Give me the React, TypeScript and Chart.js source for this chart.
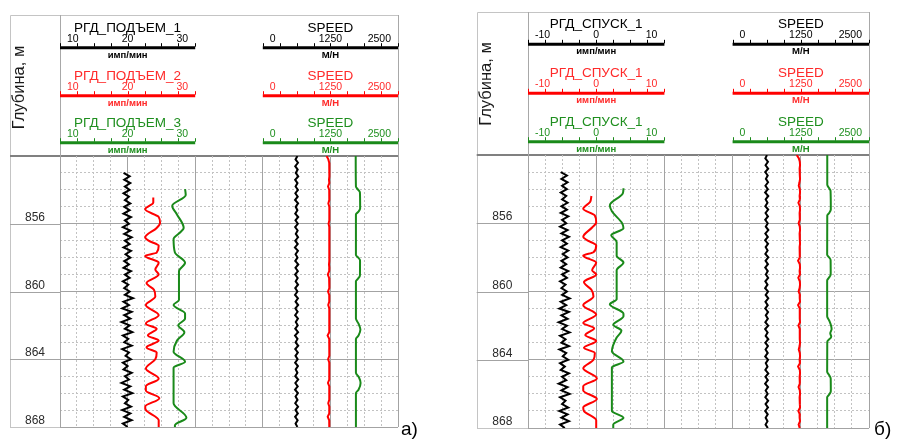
import React, { useEffect, useRef } from "react";
import { Chart, registerables } from "chart.js";

Chart.register(...registerables);

const FONT = "'Liberation Sans', Arial, Helvetica, sans-serif";

// ---------------- data ----------------
const DEPTH_MIN = 852;
const DEPTH_MAX = 868;
const depthTitle = "Глубина, м";
const namesA = ["РГД_ПОДЪЕМ_1", "РГД_ПОДЪЕМ_2", "РГД_ПОДЪЕМ_3"];
const namesB = ["РГД_СПУСК_1", "РГД_СПУСК_1", "РГД_СПУСК_1"];
const speedName = "SPEED";
const unitCount = "имп/мин";
const unitSpeed = "М/Н";
const ticksA = [10, 20, 30];
const ticksB = [-10, 0, 10];
const speedTicks = [0, 1250, 2500];

const depthFine = [
  852.0, 852.2, 852.4, 852.6, 852.8, 853.0, 853.2, 853.4, 853.6, 853.8,
  854.0, 854.2, 854.4, 854.6, 854.8, 855.0, 855.2, 855.4, 855.6, 855.8,
  856.0, 856.2, 856.4, 856.6, 856.8, 857.0, 857.2, 857.4, 857.6, 857.8,
  858.0, 858.2, 858.4, 858.6, 858.8, 859.0, 859.2, 859.4, 859.6, 859.8,
  860.0, 860.2, 860.4, 860.6, 860.8, 861.0, 861.2, 861.4, 861.6, 861.8,
  862.0, 862.2, 862.4, 862.6, 862.8, 863.0, 863.2, 863.4, 863.6, 863.8,
  864.0, 864.2, 864.4, 864.6, 864.8, 865.0, 865.2, 865.4, 865.6, 865.8,
  866.0, 866.2, 866.4, 866.6, 866.8, 867.0, 867.2, 867.4, 867.6, 867.8,
  868.0,
];
const depthFrom853 = depthFine.slice(5);

// panel a) — ПОДЪЕМ
const aBlack1 = [
  19.4, 20.3, 19.5, 20.4, 19.6, 20.3, 19.4, 20.2, 19.6, 20.4,
  19.5, 20.3, 19.4, 20.5, 19.6, 20.2, 19.3, 20.4, 19.5, 20.6,
  19.6, 20.3, 19.4, 20.5, 19.7, 20.4, 19.5, 20.2, 19.4, 20.5,
  19.6, 20.3, 19.3, 20.1, 19.5, 20.3, 19.6, 20.8, 19.4, 20.2,
  19.2, 20.6, 19.5, 20.4, 19.1, 20.3, 19.6, 20.7, 19.3, 20.1,
  19.5, 20.6, 19.2, 20.2, 19.7, 20.5, 19.3, 20.0, 19.4, 20.6,
  19.6, 20.2, 19.1, 20.4, 19.5, 20.7, 19.3, 20.1, 19.6, 20.5,
  19.2, 20.4, 19.5, 20.6, 19.3, 20.0,
];
const aRed1Depth = [
  854.45, 854.75, 855.15, 855.6, 855.95, 856.25, 856.8, 857.0, 857.3, 857.7,
  857.9, 858.3, 858.7, 859.0, 859.5, 859.9, 860.3, 860.8, 861.4, 861.9,
  862.2, 862.6, 862.9, 863.3, 863.6, 864.0, 864.55, 865.15, 865.6, 865.85,
  866.3, 866.8, 867.0, 867.6, 868.0,
];
const aRed1 = [
  23.8, 23.8, 22.6, 24.6, 24.8, 24.3, 22.6, 23.1, 24.6, 24.3,
  22.6, 24.6, 24.1, 24.6, 22.8, 23.9, 24.1, 22.7, 24.6, 22.7,
  24.3, 23.0, 24.6, 22.8, 24.3, 24.1, 22.7, 24.6, 22.7, 22.7,
  24.7, 22.6, 22.7, 24.6, 24.6,
];
const aGreen1Depth = [
  853.95, 854.3, 854.95, 855.45, 856.25, 856.5, 856.9, 857.7, 858.3, 858.8,
  859.9, 860.5, 860.8, 861.3, 861.6, 862.0, 862.4, 862.9, 863.55, 864.15,
  864.5, 866.6, 867.45, 867.9, 868.0,
];
const aGreen1 = [
  28.5, 28.6, 26.6, 27.3, 28.3, 27.8, 26.8, 27.0, 28.5, 27.6,
  27.6, 27.6, 26.8, 28.5, 28.5, 27.5, 28.4, 27.3, 26.8, 28.5,
  26.8, 26.8, 28.7, 27.0, 27.0,
];
const aBlackSpeed = [
  640, 605, 650, 600, 645, 610, 655, 598, 642, 606,
  650, 602, 646, 596, 652, 608, 640, 600, 655, 604,
  648, 598, 644, 610, 652, 600, 646, 594, 650, 606,
  642, 600, 656, 604, 648, 598, 645, 608, 652, 600,
  640, 596, 650, 606, 654, 602, 644, 598, 650, 610,
  646, 600, 652, 596, 642, 606, 655, 600, 648, 604,
  644, 598, 650, 608, 640, 600, 654, 602, 646, 596,
  650, 606, 642, 600, 652, 604, 648, 598, 644, 606,
  640,
];
const aRedSpeed = [
  1180, 1212, 1228, 1232, 1226, 1230, 1234, 1224, 1230, 1206,
  1228, 1232, 1226, 1230, 1212, 1230, 1234, 1228, 1226, 1232,
  1216, 1230, 1228, 1232, 1226, 1230, 1228, 1234, 1226, 1230,
  1228, 1232, 1224, 1230, 1228, 1202, 1226, 1232, 1228, 1230,
  1206, 1228, 1232, 1226, 1210, 1230, 1228, 1234, 1226, 1230,
  1228, 1232, 1226, 1198, 1228, 1232, 1226, 1230, 1228, 1234,
  1208, 1230, 1228, 1232, 1226, 1230, 1228, 1205, 1230, 1232,
  1226, 1230, 1228, 1210, 1230, 1226, 1232, 1200, 1228, 1230,
  1228,
];
const aGreenSpeedDepth = [
  852, 853.8, 854.0, 854.15, 855.1, 855.3, 855.45, 857.85, 858.0, 858.15,
  859.05, 859.25, 859.4, 861.6, 861.9, 862.25, 862.6, 862.8, 864.8, 865.05,
  865.4, 865.8, 866.0, 868,
];
const aGreenSpeed = [
  1718, 1722, 1765, 1796, 1800, 1765, 1722, 1722, 1765, 1798,
  1796, 1760, 1722, 1722, 1770, 1805, 1770, 1722, 1722, 1775,
  1808, 1770, 1722, 1722,
];

// panel б) — СПУСК
const bBlack1 = [
  -5.2, -4.3, -5.1, -4.2, -5.0, -4.3, -5.2, -4.4, -5.0, -4.2,
  -5.1, -4.3, -5.2, -4.1, -5.0, -4.4, -5.3, -4.2, -5.1, -4.0,
  -5.0, -4.3, -5.2, -4.1, -4.9, -4.2, -5.1, -4.4, -5.2, -4.1,
  -5.0, -4.3, -5.3, -4.5, -5.1, -4.3, -5.0, -3.9, -5.2, -4.4,
  -5.4, -4.0, -5.1, -4.2, -5.5, -4.3, -5.0, -3.9, -5.3, -4.5,
  -5.1, -4.0, -5.4, -4.4, -4.9, -4.1, -5.3, -4.6, -5.2, -4.0,
  -5.0, -4.4, -5.5, -4.2, -5.1, -3.9, -5.3, -4.5, -5.0, -4.1,
  -5.4, -4.2, -5.1, -4.0, -5.3, -4.6,
];
const bRed1Depth = [
  854.4, 854.75, 855.15, 855.55, 855.95, 856.25, 856.8, 857.0, 857.3, 857.7,
  857.9, 858.3, 858.75, 859.0, 859.45, 859.9, 860.3, 860.8, 861.35, 861.85,
  862.15, 862.55, 862.9, 863.3, 863.6, 864.0, 864.5, 865.1, 865.55, 865.8,
  866.3, 866.8, 867.0, 867.55, 868.0,
];
const bRed1 = [
  -0.7, -0.9, -1.9, -0.2, 0.0, -0.6, -1.9, -1.3, 0.0, -0.4,
  -1.9, 0.0, -0.6, 0.0, -1.8, -0.7, -0.4, -1.9, 0.0, -1.9,
  -0.3, -1.6, 0.0, -1.8, -0.2, -0.4, -1.9, 0.1, -1.9, -1.9,
  0.1, -1.9, -1.8, 0.0, 0.0,
];
const bGreen1Depth = [
  853.95, 854.25, 854.95, 855.3, 856.0, 856.3, 856.7, 857.1, 857.9, 858.3,
  858.75, 859.9, 860.45, 860.75, 861.3, 861.45, 861.95, 862.3, 862.7, 863.5,
  864.1, 864.45, 867.0, 867.4, 867.8, 868.0,
];
const bGreen1 = [
  4.0, 3.9, 2.0, 2.3, 3.8, 4.0, 2.2, 3.0, 3.0, 4.0,
  3.0, 3.0, 3.0, 2.0, 4.0, 4.0, 2.5, 3.7, 3.0, 2.3,
  4.0, 2.3, 2.3, 4.0, 2.5, 2.5,
];
const bBlackSpeed = [
  630, 600, 648, 604, 652, 598, 644, 610, 650, 602,
  646, 596, 654, 606, 640, 600, 652, 604, 648, 598,
  644, 608, 655, 600, 646, 596, 650, 606, 642, 600,
  654, 604, 648, 598, 645, 610, 652, 600, 640, 596,
  650, 606, 654, 602, 644, 598, 650, 608, 646, 600,
  652, 596, 642, 606, 655, 600, 648, 604, 644, 598,
  650, 608, 640, 600, 654, 602, 646, 596, 650, 606,
  642, 600, 652, 604, 648, 598, 644, 606, 640, 604,
  646,
];
const bRedSpeed = [
  1175, 1215, 1232, 1236, 1228, 1234, 1230, 1236, 1226, 1212,
  1232, 1236, 1228, 1234, 1206, 1232, 1236, 1228, 1234, 1230,
  1210, 1232, 1236, 1228, 1234, 1230, 1236, 1228, 1232, 1234,
  1228, 1200, 1232, 1236, 1228, 1234, 1204, 1232, 1236, 1228,
  1210, 1234, 1230, 1236, 1200, 1232, 1228, 1234, 1230, 1236,
  1206, 1232, 1228, 1234, 1230, 1236, 1228, 1212, 1232, 1236,
  1228, 1234, 1200, 1232, 1236, 1228, 1234, 1230, 1208, 1232,
  1236, 1228, 1234, 1230, 1236, 1205, 1232, 1228, 1236, 1210,
  1230,
];
const bGreenSpeedDepth = [
  852, 853.75, 853.95, 854.1, 855.2, 855.4, 855.55, 857.85, 858.0, 858.15,
  859.0, 859.2, 859.35, 861.45, 861.7, 861.95, 862.2, 862.45, 862.65, 862.95,
  864.7, 864.9, 865.1, 865.85, 866.05, 866.2, 868,
];
const bGreenSpeed = [
  1735, 1735, 1770, 1795, 1800, 1770, 1735, 1733, 1770, 1796,
  1798, 1765, 1733, 1733, 1770, 1800, 1815, 1790, 1808, 1735,
  1733, 1770, 1798, 1800, 1768, 1733, 1733,
];

// ---------------- styling ----------------
const CURVE_COLORS = ["#000000", "#ff0000", "#1a8a1a"];
const TEXT_COLORS = ["#000000", "#ff2a2a", "#1f8f1f"];
const GRID_MAJOR = "#a3a3a3";
const GRID_MINOR = "#c2c2c2";
const GRID_CELLS = 20;
const TRACK_CELLS = 8;
const SPEED_START_CELL = 12;

function pts(d: number[], v: number[]) {
  const n = Math.min(d.length, v.length);
  const out: { x: number; y: number }[] = [];
  for (let i = 0; i < n; i++) out.push({ x: v[i], y: d[i] });
  return out;
}

type CurveSpec = { depths: number[]; values: number[]; row: number; track: "xa" | "xs"; smooth: boolean };

type PanelSpec = {
  key: string;
  left: number;
  pad: { left: number; top: number; right: number; bottom: number };
  frameLeft: number;
  frameTop: number;
  rows: number[];
  titleX: number;
  titleY: number;
  tag: string;
  tagX: number;
  tagY: number;
  names: string[];
  ticks: number[];
  curves: CurveSpec[];
};

const panels: PanelSpec[] = [
  {
    key: "a",
    left: 0,
    pad: { left: 60, top: 156, right: 51, bottom: 12 },
    frameLeft: 10,
    frameTop: 15,
    rows: [-108.3, -60.3, -13.3],
    titleX: 19,
    titleY: 87.5,
    tag: "а)",
    tagX: 401,
    tagY: 435,
    names: namesA,
    ticks: ticksA,
    curves: [
      { depths: depthFrom853, values: aBlack1, row: 0, track: "xa", smooth: false },
      { depths: aRed1Depth, values: aRed1, row: 1, track: "xa", smooth: true },
      { depths: aGreen1Depth, values: aGreen1, row: 2, track: "xa", smooth: true },
      { depths: depthFine, values: aBlackSpeed, row: 0, track: "xs", smooth: false },
      { depths: depthFine, values: aRedSpeed, row: 1, track: "xs", smooth: false },
      { depths: aGreenSpeedDepth, values: aGreenSpeed, row: 2, track: "xs", smooth: true },
    ],
  },
  {
    key: "b",
    left: 449,
    pad: { left: 79, top: 155, right: 29, bottom: 11 },
    frameLeft: 27.7,
    frameTop: 12,
    rows: [-110.7, -61.7, -13.3],
    titleX: 37,
    titleY: 84,
    tag: "б)",
    tagX: 425,
    tagY: 435,
    names: namesB,
    ticks: ticksB,
    curves: [
      { depths: depthFrom853, values: bBlack1, row: 0, track: "xa", smooth: false },
      { depths: bRed1Depth, values: bRed1, row: 1, track: "xa", smooth: true },
      { depths: bGreen1Depth, values: bGreen1, row: 2, track: "xa", smooth: true },
      { depths: depthFine, values: bBlackSpeed, row: 0, track: "xs", smooth: false },
      { depths: depthFine, values: bRedSpeed, row: 1, track: "xs", smooth: false },
      { depths: bGreenSpeedDepth, values: bGreenSpeed, row: 2, track: "xs", smooth: true },
    ],
  },
];

function drawHeaderScale(
  ctx: CanvasRenderingContext2D,
  scale: any,
  ticks: number[],
  name: string,
  unit: string,
  lineY: number,
  lineColor: string,
  textColor: string
) {
  const first = ticks[0];
  const last = ticks[ticks.length - 1];
  const x0 = scale.getPixelForValue(first);
  const x1 = scale.getPixelForValue(last);
  // main scale bar
  ctx.strokeStyle = lineColor;
  ctx.lineWidth = 3;
  ctx.lineCap = "butt";
  ctx.beginPath();
  ctx.moveTo(x0, lineY);
  ctx.lineTo(x1, lineY);
  ctx.stroke();
  // small tick marks
  ctx.lineWidth = 1;
  const minor = (ticks[1] - ticks[0]) / 4;
  for (let v = first; v <= last + 1e-9; v += minor) {
    const px = Math.round(scale.getPixelForValue(v)) + 0.5;
    ctx.beginPath();
    ctx.moveTo(px, lineY - 1);
    ctx.lineTo(px, lineY - 4.5);
    ctx.stroke();
  }
  ctx.fillStyle = textColor;
  // tick labels
  ctx.font = `10.5px ${FONT}`;
  ctx.textBaseline = "alphabetic";
  ticks.forEach((t, i) => {
    const px = scale.getPixelForValue(t);
    if (i === 0) {
      ctx.textAlign = "left";
      ctx.fillText(String(t), px + 7, lineY - 6);
    } else if (i === ticks.length - 1) {
      ctx.textAlign = "right";
      ctx.fillText(String(t), px - 7, lineY - 6);
    } else {
      ctx.textAlign = "center";
      ctx.fillText(String(t), px, lineY - 6);
    }
  });
  // curve name
  ctx.font = `13.5px ${FONT}`;
  ctx.textAlign = "center";
  ctx.fillText(name, (x0 + x1) / 2, lineY - 16);
  // unit
  ctx.font = `bold 9.5px ${FONT}`;
  ctx.fillText(unit, (x0 + x1) / 2, lineY + 10);
}

const logPlugin = {
  id: "logLayout",
  afterDraw(chart: any, _args: any, o: any) {
    const { ctx, chartArea: ca, scales } = chart;
    const y = scales.y;
    const fl = o.frameLeft;
    const ft = o.frameTop;
    ctx.save();
    // outer frame
    ctx.strokeStyle = "#c4c4c4";
    ctx.lineWidth = 1;
    ctx.beginPath();
    ctx.moveTo(Math.round(fl) + 0.5, ca.bottom);
    ctx.lineTo(Math.round(fl) + 0.5, Math.round(ft) + 0.5);
    ctx.lineTo(Math.round(ca.right) + 0.5, Math.round(ft) + 0.5);
    ctx.stroke();
    ctx.beginPath();
    ctx.moveTo(Math.round(fl), Math.round(ca.bottom) + 0.5);
    ctx.lineTo(ca.left, Math.round(ca.bottom) + 0.5);
    ctx.stroke();
    // column separator and right border through the header
    ctx.strokeStyle = "#a8a8a8";
    ctx.beginPath();
    ctx.moveTo(Math.round(ca.left) + 0.5, ft);
    ctx.lineTo(Math.round(ca.left) + 0.5, ca.top);
    ctx.moveTo(Math.round(ca.right) + 0.5, ft);
    ctx.lineTo(Math.round(ca.right) + 0.5, ca.top);
    ctx.stroke();
    // header separator extends over depth column
    ctx.strokeStyle = "#808080";
    ctx.lineWidth = 2;
    ctx.beginPath();
    ctx.moveTo(fl, Math.round(ca.top));
    ctx.lineTo(ca.left, Math.round(ca.top));
    ctx.stroke();
    // depth labels and major lines in the depth column
    ctx.lineWidth = 1;
    ctx.font = `12px ${FONT}`;
    ctx.textAlign = "center";
    ctx.textBaseline = "alphabetic";
    y.ticks.forEach((t: any) => {
      if (t.value % 4 !== 0 || t.value === DEPTH_MIN) return;
      const py = y.getPixelForValue(t.value);
      if (t.value !== DEPTH_MAX) {
        ctx.strokeStyle = GRID_MAJOR;
        ctx.beginPath();
        ctx.moveTo(fl, Math.round(py) + 0.5);
        ctx.lineTo(ca.left, Math.round(py) + 0.5);
        ctx.stroke();
      }
      ctx.fillStyle = "#2b2b2b";
      ctx.fillText(String(t.value), (fl + ca.left) / 2, py - 3);
    });
    // depth axis title
    ctx.save();
    ctx.translate(o.titleX, o.titleY);
    ctx.rotate(-Math.PI / 2);
    ctx.fillStyle = "#1a1a1a";
    ctx.font = `16.5px ${FONT}`;
    ctx.textAlign = "center";
    ctx.textBaseline = "middle";
    ctx.fillText(depthTitle, 0, 0);
    ctx.restore();
    // header scales
    o.rows.forEach((off: number, i: number) => {
      const ly = ca.top + off;
      drawHeaderScale(ctx, scales.xa, o.ticks, o.names[i], unitCount, ly, CURVE_COLORS[i], TEXT_COLORS[i]);
      drawHeaderScale(ctx, scales.xs, speedTicks, speedName, unitSpeed, ly, CURVE_COLORS[i], TEXT_COLORS[i]);
    });
    // panel tag
    ctx.fillStyle = "#000";
    ctx.font = `19px ${FONT}`;
    ctx.textAlign = "left";
    ctx.textBaseline = "alphabetic";
    ctx.fillText(o.tag, o.tagX, o.tagY);
    ctx.restore();
  },
};

function buildConfig(p: PanelSpec): any {
  const t0 = p.ticks[0];
  const t1 = p.ticks[p.ticks.length - 1];
  const s0 = speedTicks[0];
  const s1 = speedTicks[speedTicks.length - 1];
  const trackFrac = TRACK_CELLS / GRID_CELLS;
  const speedLeftFrac = SPEED_START_CELL / GRID_CELLS;
  const speedSpan = (s1 - s0) / (1 - speedLeftFrac);

  const isMajor = (ctx: any) => ctx.tick && Math.abs(ctx.tick.value % 4) < 1e-9;

  return {
    type: "line",
    data: {
      datasets: p.curves.map((c) => ({
        data: pts(c.depths, c.values),
        xAxisID: c.track,
        yAxisID: "y",
        borderColor: CURVE_COLORS[c.row],
        borderWidth: 2,
        pointRadius: 0,
        fill: false,
        cubicInterpolationMode: c.smooth ? "monotone" : "default",
        tension: 0,
      })),
    },
    options: {
      animation: false,
      responsive: false,
      maintainAspectRatio: false,
      devicePixelRatio: 1,
      indexAxis: "y",
      layout: { padding: p.pad },
      events: [],
      plugins: {
        legend: { display: false },
        tooltip: { enabled: false },
        logLayout: {
          frameLeft: p.frameLeft,
          frameTop: p.frameTop,
          rows: p.rows,
          titleX: p.titleX,
          titleY: p.titleY,
          tag: p.tag,
          tagX: p.tagX,
          tagY: p.tagY,
          names: p.names,
          ticks: p.ticks,
        },
      },
      scales: {
        y: {
          type: "linear",
          position: "left",
          reverse: true,
          min: DEPTH_MIN,
          max: DEPTH_MAX,
          ticks: { display: false, stepSize: 1, maxTicksLimit: 100 },
          grid: {
            drawTicks: false,
            color: (ctx: any) =>
              ctx.tick && ctx.tick.value === DEPTH_MIN ? "#808080" : isMajor(ctx) ? GRID_MAJOR : GRID_MINOR,
            lineWidth: (ctx: any) => (ctx.tick && ctx.tick.value === DEPTH_MIN ? 2 : 1),
          },
          border: { display: false, dash: (ctx: any) => (isMajor(ctx) ? [] : [2, 2]) },
        },
        xg: {
          type: "linear",
          axis: "x",
          position: "bottom",
          min: 0,
          max: GRID_CELLS,
          ticks: { display: false, stepSize: 1, maxTicksLimit: 100 },
          grid: {
            drawTicks: false,
            color: (ctx: any) => (isMajor(ctx) ? GRID_MAJOR : GRID_MINOR),
            lineWidth: 1,
          },
          border: { display: false, dash: (ctx: any) => (isMajor(ctx) ? [] : [2, 2]) },
        },
        xa: {
          type: "linear",
          axis: "x",
          position: "bottom",
          display: false,
          min: t0,
          max: t0 + (t1 - t0) / trackFrac,
        },
        xs: {
          type: "linear",
          axis: "x",
          position: "bottom",
          display: false,
          min: s1 - speedSpan,
          max: s1,
        },
      },
    },
    plugins: [logPlugin],
  };
}

function LogPanel({ spec }: { spec: PanelSpec }) {
  const ref = useRef<HTMLCanvasElement>(null);
  useEffect(() => {
    if (!ref.current) return;
    const chart = new Chart(ref.current, buildConfig(spec));
    return () => chart.destroy();
  }, [spec]);
  return (
    <canvas
      ref={ref}
      width={449}
      height={439}
      style={{ position: "absolute", left: spec.left, top: 0, width: 449, height: 439 }}
    />
  );
}

export default function App() {
  return (
    <div
      style={{
        position: "absolute",
        left: 0,
        top: 0,
        width: 898,
        height: 439,
        background: "#ffffff",
        overflow: "hidden",
      }}
    >
      {panels.map((p) => (
        <LogPanel key={p.key} spec={p} />
      ))}
    </div>
  );
}
